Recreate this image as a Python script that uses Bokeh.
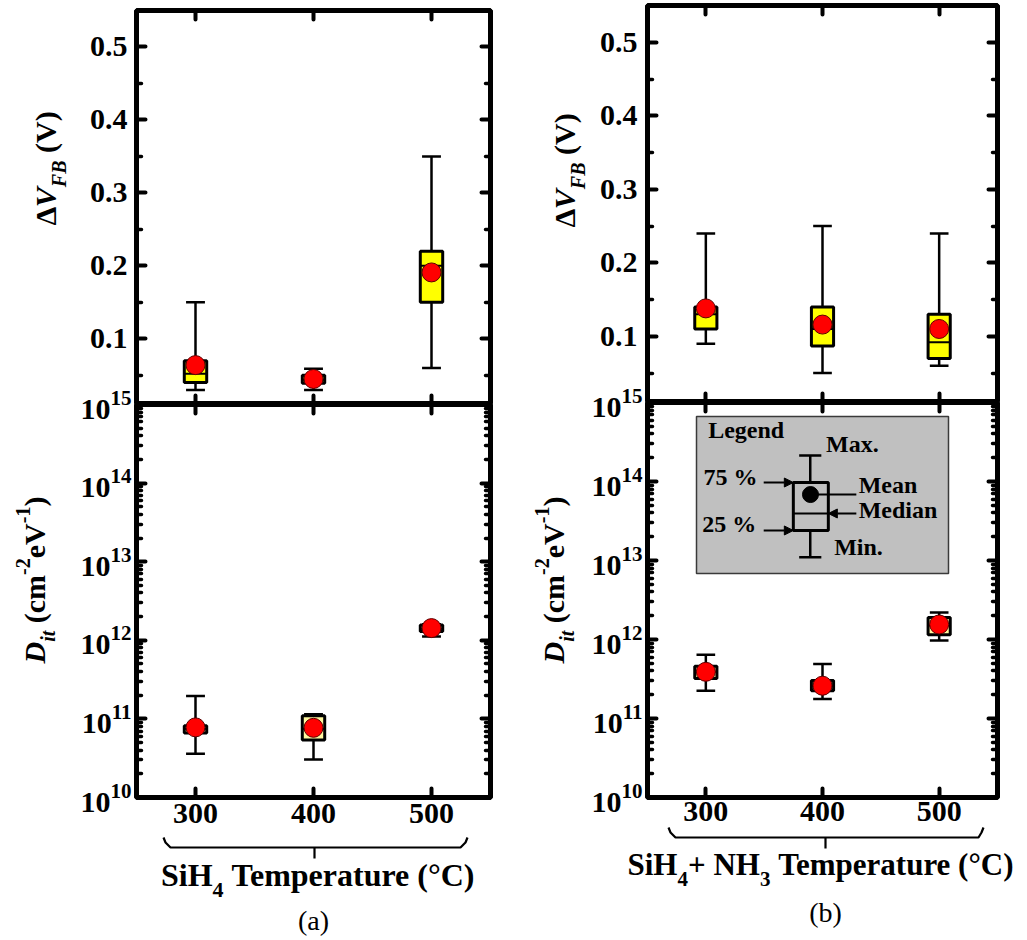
from math import pi
import numpy as np
from bokeh.plotting import figure
from bokeh.layouts import row, column
from bokeh.models import (Range1d, FixedTicker, LinearAxis, LogAxis,
                          Arrow, NormalHead, ColumnDataSource)
from bokeh.core.properties import value
from bokeh.embed import file_html
from bokeh.resources import INLINE

FONT = "Liberation Serif"

# ---------------- data ----------------
TEMPS = [300, 400, 500]

# (a) SiH4 : flat-band voltage shift (V)
A_VFB_MIN = [0.030, 0.030, 0.060]
A_VFB_Q1 = [0.040, 0.039, 0.150]
A_VFB_MED = [0.052, 0.044, 0.200]
A_VFB_Q3 = [0.070, 0.050, 0.220]
A_VFB_MAX = [0.150, 0.059, 0.350]
A_VFB_MEAN = [0.064, 0.045, 0.191]

# (a) SiH4 : interface trap density (cm^-2 eV^-1)
A_DIT_MIN = [3.6e10, 3.05e10, 1.12e12]
A_DIT_Q1 = [6.6e10, 5.4e10, 1.29e12]
A_DIT_MED = [7.5e10, 7.5e10, 1.40e12]
A_DIT_Q3 = [8.2e10, 1.10e11, 1.57e12]
A_DIT_MAX = [1.95e11, 1.15e11, 1.60e12]
A_DIT_MEAN = [7.8e10, 7.7e10, 1.43e12]

# (b) SiH4 + NH3 : flat-band voltage shift (V)
B_VFB_MIN = [0.090, 0.050, 0.060]
B_VFB_Q1 = [0.110, 0.087, 0.070]
B_VFB_MED = [0.130, 0.110, 0.092]
B_VFB_Q3 = [0.140, 0.140, 0.130]
B_VFB_MAX = [0.240, 0.250, 0.240]
B_VFB_MEAN = [0.138, 0.116, 0.110]

# (b) SiH4 + NH3 : interface trap density
B_DIT_MIN = [2.24e11, 1.76e11, 9.7e11]
B_DIT_Q1 = [3.2e11, 2.24e11, 1.15e12]
B_DIT_MED = [3.9e11, 2.6e11, 1.50e12]
B_DIT_Q3 = [4.6e11, 3.03e11, 1.90e12]
B_DIT_MAX = [6.4e11, 4.9e11, 2.20e12]
B_DIT_MEAN = [3.9e11, 2.6e11, 1.55e12]

# axes
X_LO, X_HI = 250, 550
VFB_LO, VFB_HI = 0.01, 0.55
VFB_TICKS = [0.1, 0.2, 0.3, 0.4, 0.5]
VFB_MINOR = [0.05, 0.15, 0.25, 0.35, 0.45, 0.55]
DIT_DECADES = [10, 11, 12, 13, 14, 15]
DIT_LO, DIT_HI = 1e10, 1e15

# schematic legend (x in degC units, y as log10 exponent)
LEG_BG_X = [292, 508]
LEG_BG_Y = [12.835, 14.823]
LEG_BOX_X = [375, 405]
LEG_BOX_Y = [13.38, 13.987]
LEG_MED_Y = 13.595
LEG_WHISK_Y = [13.04, 14.33]
LEG_CAP_X = [380, 399]
LEG_MEAN_XY = [389.7, 13.835]
LEG_TEXT = ["Legend", "Max.", "75 %", "Mean", "Median", "25 %", "Min."]
LEG_TEXT_X = [302, 403, 298, 431, 431, 297, 410]
LEG_TEXT_Y = [14.646, 14.48, 14.063, 13.962, 13.633, 13.456, 13.165]

BOX_W = 19
CAP_W = 16

# ---------------- helpers ----------------
W_BOLD = {'Δ': .612, ' ': .25, '(': .333, ')': .333, 'V': .722, 'c': .444, 'm': .833,
          'e': .444, '-': .333, '2': .5, '1': .5, 'S': .556, 'i': .278, 'H': .778,
          '4': .5, '3': .5, '+': .570, 'N': .722, 'T': .667, 'p': .556, 'r': .444,
          'a': .5, 't': .333, 'u': .556, '°': .4, 'C': .722}
W_BI = {'V': .667, 'F': .667, 'B': .667, 'D': .722, 'i': .278, 't': .278}


def tw(text, size, style):
    tab = W_BI if "italic" in style else W_BOLD
    return sum(tab.get(ch, .5) for ch in text) * size


def txt(p, x, y, text, size, style="bold", align="left", baseline="middle", angle=0.0):
    p.text(x=[x], y=[y], text=[text], text_font=value(FONT), text_font_size=f"{size}px",
           text_font_style=style, text_align=align, text_baseline=baseline, angle=angle,
           text_color="black")


def style_axis(ax, show, standoff=8):
    ax.axis_line_color = None
    ax.major_tick_in = 9
    ax.major_tick_out = 0
    ax.minor_tick_in = 5
    ax.minor_tick_out = 0
    ax.major_tick_line_width = 4
    ax.minor_tick_line_width = 3.5
    ax.major_tick_line_cap = "round"
    ax.minor_tick_line_cap = "round"
    ax.major_tick_line_color = "black"
    ax.minor_tick_line_color = "black"
    if show:
        ax.major_label_text_font = FONT
        ax.major_label_text_font_style = "bold"
        ax.major_label_text_font_size = "30px"
        ax.major_label_text_color = "black"
        ax.major_label_standoff = standoff
    else:
        ax.major_label_text_font_size = "0px"
        ax.major_label_text_color = None
        ax.major_label_standoff = 0


def make_panel(kind, xr, fw, fh, bl, br, bt, bb, show_x, y_standoff=8, x_standoff=5,
               margin=(0, 0, 0, 0)):
    common = dict(x_range=xr, frame_width=fw, frame_height=fh, min_border_left=bl,
                  min_border_right=br, min_border_top=bt, min_border_bottom=bb,
                  toolbar_location=None, output_backend="svg", margin=margin,
                  x_axis_location=None, y_axis_location=None)
    if kind == "lin":
        p = figure(y_range=Range1d(VFB_LO, VFB_HI), **common)
        def mk():
            return LinearAxis(ticker=FixedTicker(ticks=VFB_TICKS, minor_ticks=VFB_MINOR))
    else:
        p = figure(y_range=Range1d(DIT_LO, DIT_HI), y_axis_type="log", **common)
        majors = [10.0 ** d for d in DIT_DECADES]
        minors = [k * 10.0 ** d for d in DIT_DECADES[:-1] for k in range(2, 10)]
        def mk():
            return LogAxis(ticker=FixedTicker(ticks=majors, minor_ticks=minors))
    p.xgrid.visible = False
    p.ygrid.visible = False
    p.outline_line_color = "black"
    p.outline_line_width = 5
    p.background_fill_color = "white"
    p.border_fill_color = "white"
    if kind == "log":
        p.border_fill_alpha = 0.0

    left = mk()
    style_axis(left, True, y_standoff)
    p.add_layout(left, "left")
    right = mk()
    style_axis(right, False)
    p.add_layout(right, "right")
    for loc in ("above", "below"):
        ax = LinearAxis(ticker=FixedTicker(ticks=TEMPS, minor_ticks=[]))
        style_axis(ax, show_x and loc == "below", x_standoff)
        p.add_layout(ax, loc)
    return p


def draw_boxes(p, lo, q1, med, q3, hi, mean, fill):
    x = np.array(TEMPS, dtype=float)
    src = ColumnDataSource(dict(x=x, lo=lo, q1=q1, med=med, q3=q3, hi=hi, mean=mean,
                                cl=x - CAP_W / 2, cr=x + CAP_W / 2,
                                bl=x - BOX_W / 2, br=x + BOX_W / 2))
    p.segment(x0="x", y0="lo", x1="x", y1="hi", source=src, line_color="black", line_width=2.5)
    p.segment(x0="cl", y0="lo", x1="cr", y1="lo", source=src, line_color="black", line_width=2.5)
    p.segment(x0="cl", y0="hi", x1="cr", y1="hi", source=src, line_color="black", line_width=2.5)
    p.quad(left="bl", right="br", bottom="q1", top="q3", source=src, fill_color=fill,
           line_color="black", line_width=3)
    p.segment(x0="bl", y0="med", x1="br", y1="med", source=src, line_color="black", line_width=2)
    p.scatter(x="x", y="mean", source=src, size=19, fill_color="#FF0000",
              line_color="#600000", line_width=1)


def strip(width, height, margin=(0, 0, 0, 0)):
    p = figure(width=width, height=height, x_range=Range1d(0, width),
               y_range=Range1d(0, height), min_border=0, toolbar_location=None,
               output_backend="svg", x_axis_location=None, y_axis_location=None,
               margin=margin)
    p.xgrid.visible = False
    p.ygrid.visible = False
    p.outline_line_color = None
    p.border_fill_alpha = 0.0
    p.background_fill_alpha = 0.0
    return p


def vtitle(p, height, xc, y_start, pieces):
    """vertical composite title, reading bottom to top; y_start = screen y of its bottom end"""
    cum = 0.0
    for text, size, style, shift in pieces:
        if text.startswith(" "):
            cum += tw(" ", size, "bold")
            text = text.lstrip(" ")
        txt(p, xc + shift, height - (y_start - cum), text, size, style, angle=pi / 2)
        cum += tw(text, size, style)


VFB_TITLE = [("Δ", 30, "bold", 0), ("V", 30, "bold italic", 0),
             ("FB", 20, "bold italic", 13), (" (V)", 30, "bold", 0)]
DIT_TITLE = [("D", 30, "bold italic", 0), ("it", 20, "bold italic", 13),
             (" (cm", 30, "bold", 0), ("-2", 20, "bold", -12), ("eV", 30, "bold", 0),
             ("-1", 20, "bold", -12), (")", 30, "bold", 0)]

ROW_H = 839
OVER = 24          # overlap of the lower panel canvas onto the upper one

# ---------------- column (a) ----------------
xa = Range1d(X_LO, X_HI)
a_top = make_panel("lin", xa, 354, 394, 64, 10, 10, 0, False, y_standoff=9)
draw_boxes(a_top, A_VFB_MIN, A_VFB_Q1, A_VFB_MED, A_VFB_Q3, A_VFB_MAX, A_VFB_MEAN, "#FFFF00")

a_bot = make_panel("log", xa, 354, 393, 64, 10, OVER, 42, True, y_standoff=5, x_standoff=6,
                   margin=(-OVER, 0, 0, 0))
draw_boxes(a_bot, A_DIT_MIN, A_DIT_Q1, A_DIT_MED, A_DIT_Q3, A_DIT_MAX, A_DIT_MEAN, "#FFF8A0")

s_a = strip(72, ROW_H)
vtitle(s_a, ROW_H, 45, 225, VFB_TITLE)
vtitle(s_a, ROW_H, 34, 663, DIT_TITLE)

# ---------------- column (b) ----------------
xb = Range1d(X_LO, X_HI)
b_top = make_panel("lin", xb, 350, 397, 59, 30, 5, 0, False, y_standoff=10)
draw_boxes(b_top, B_VFB_MIN, B_VFB_Q1, B_VFB_MED, B_VFB_Q3, B_VFB_MAX, B_VFB_MEAN, "#FFFF00")

b_bot = make_panel("log", xb, 350, 395, 59, 30, OVER, 40, True, y_standoff=5, x_standoff=4,
                   margin=(-OVER, 0, 0, 0))
# schematic legend
b_bot.quad(left=[LEG_BG_X[0]], right=[LEG_BG_X[1]], bottom=[10 ** LEG_BG_Y[0]],
           top=[10 ** LEG_BG_Y[1]], fill_color="#C0C0C0", line_color="#3A3A3A", line_width=1.5)
lx = (LEG_CAP_X[0] + LEG_CAP_X[1]) / 2
b_bot.segment(x0=[lx, lx], y0=[10 ** LEG_BOX_Y[1], 10 ** LEG_BOX_Y[0]],
              x1=[lx, lx], y1=[10 ** LEG_WHISK_Y[1], 10 ** LEG_WHISK_Y[0]],
              line_color="black", line_width=2.5)
b_bot.segment(x0=[LEG_CAP_X[0]] * 2, y0=[10 ** v for v in LEG_WHISK_Y],
              x1=[LEG_CAP_X[1]] * 2, y1=[10 ** v for v in LEG_WHISK_Y],
              line_color="black", line_width=2.5)
b_bot.quad(left=[LEG_BOX_X[0]], right=[LEG_BOX_X[1]], bottom=[10 ** LEG_BOX_Y[0]],
           top=[10 ** LEG_BOX_Y[1]], fill_color=None, line_color="black", line_width=3)
b_bot.segment(x0=[LEG_BOX_X[0]], y0=[10 ** LEG_MED_Y], x1=[LEG_BOX_X[1]], y1=[10 ** LEG_MED_Y],
              line_color="black", line_width=2)
b_bot.scatter(x=[LEG_MEAN_XY[0]], y=[10 ** LEG_MEAN_XY[1]], size=16, fill_color="black",
              line_color="black")
for yv in (LEG_BOX_Y[1], LEG_BOX_Y[0]):
    b_bot.add_layout(Arrow(x_start=349.6, y_start=10 ** yv, x_end=LEG_BOX_X[0], y_end=10 ** yv,
                           line_width=2, line_color="black",
                           end=NormalHead(size=9, fill_color="black", line_color="black")))
b_bot.add_layout(Arrow(x_start=429, y_start=10 ** LEG_MED_Y, x_end=LEG_BOX_X[1],
                       y_end=10 ** LEG_MED_Y, line_width=2, line_color="black",
                       end=NormalHead(size=9, fill_color="black", line_color="black")))
b_bot.segment(x0=[429], y0=[10 ** LEG_MEAN_XY[1]], x1=[LEG_MEAN_XY[0]], y1=[10 ** LEG_MEAN_XY[1]],
              line_color="black", line_width=2)
b_bot.text(x=LEG_TEXT_X, y=[10 ** v for v in LEG_TEXT_Y], text=LEG_TEXT,
           text_font=value(FONT), text_font_style="bold", text_font_size="24px",
           text_baseline="middle", text_align="left", text_color="black")

draw_boxes(b_bot, B_DIT_MIN, B_DIT_Q1, B_DIT_MED, B_DIT_Q3, B_DIT_MAX, B_DIT_MEAN, "#FFF8A0")

s_b = strip(88, ROW_H)
vtitle(s_b, ROW_H, 64, 227, VFB_TITLE)
vtitle(s_b, ROW_H, 53, 663, DIT_TITLE)

# ---------------- bottom strip: brackets and x titles ----------------
BOT_TOP = 825
BOT_H = 940 - BOT_TOP
bot = strip(1027, BOT_H, margin=(-(ROW_H - BOT_TOP), 0, 0, 0))


def by(y_abs):
    return 940 - y_abs


for xs, xt, y0 in (([163, 165, 170, 460, 465, 467], 314, 837),
                   ([668, 670, 675, 978, 981, 983], 825, 827)):
    bot.line(xs, [by(y0), by(y0 + 5), by(y0 + 10), by(y0 + 10), by(y0 + 5), by(y0)],
             line_color="black", line_width=2.2)
    bot.line([xt, xt], [by(y0 + 10), by(y0 + 21)], line_color="black", line_width=2.2)


def htitle(p, x0, yc, ysub, pieces):
    cx = x0
    for text, size, sub in pieces:
        if text.startswith(" "):
            cx += tw(" ", size, "bold")
            text = text.lstrip(" ")
        txt(p, cx, by(ysub if sub else yc), text, size, "bold")
        cx += tw(text, size, "bold")


A_TITLE = [("SiH", 32, False), ("4", 22, True), (" Temperature (°C)", 32, False)]
B_TITLE = [("SiH", 31, False), ("4", 21, True), ("+ NH", 31, False), ("3", 21, True),
           (" Temperature (°C)", 31, False)]
a_w = sum(tw(t, s, "bold") for t, s, _ in A_TITLE)
htitle(bot, 319 - a_w / 2, 874, 889, A_TITLE)
htitle(bot, 627, 864, 878, B_TITLE)
txt(bot, 313, by(920), "(a)", 28, "normal", align="center")
txt(bot, 825, by(912), "(b)", 28, "normal", align="center")

layout = column(row(s_a, column(a_top, a_bot), s_b, column(b_top, b_bot)), bot)

with open("out.html", "w") as f:
    f.write(file_html(layout, INLINE, "Box plots"))
